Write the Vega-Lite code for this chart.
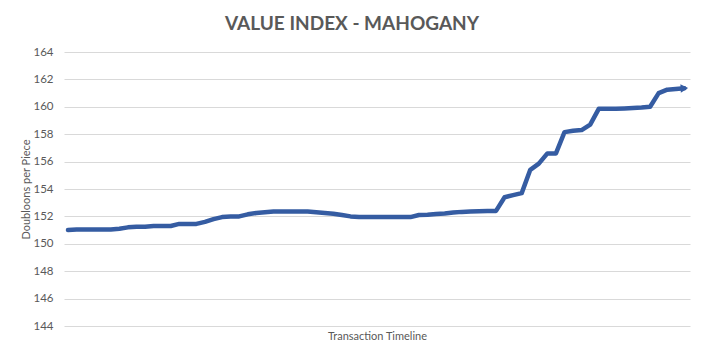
{
  "$schema": "https://vega.github.io/schema/vega-lite/v6.json",
  "width": 626,
  "height": 274,
  "autosize": {"type": "none"},
  "padding": {"left": 64, "top": 52, "right": 15, "bottom": 33},
  "background": "white",
  "title": {
    "text": "VALUE INDEX - MAHOGANY",
    "font": "Lato",
    "fontSize": 19,
    "fontWeight": "bold",
    "color": "#595959",
    "anchor": "middle",
    "dx": -25,
    "offset": 12
  },
  "config": {
    "view": {"stroke": null},
    "font": "Lato"
  },
  "data": {
    "values": [
      {"t": 0, "v": 151.0}, {"t": 1, "v": 151.05}, {"t": 2, "v": 151.05}, {"t": 3, "v": 151.05},
      {"t": 4, "v": 151.05}, {"t": 5, "v": 151.05}, {"t": 6, "v": 151.1}, {"t": 7, "v": 151.2},
      {"t": 8, "v": 151.25}, {"t": 9, "v": 151.25}, {"t": 10, "v": 151.3}, {"t": 11, "v": 151.3},
      {"t": 12, "v": 151.3}, {"t": 13, "v": 151.45}, {"t": 14, "v": 151.45}, {"t": 15, "v": 151.45},
      {"t": 16, "v": 151.6}, {"t": 17, "v": 151.8}, {"t": 18, "v": 151.95}, {"t": 19, "v": 152.0},
      {"t": 20, "v": 152.0}, {"t": 21, "v": 152.15}, {"t": 22, "v": 152.25}, {"t": 23, "v": 152.3},
      {"t": 24, "v": 152.35}, {"t": 25, "v": 152.35}, {"t": 26, "v": 152.35}, {"t": 27, "v": 152.35},
      {"t": 28, "v": 152.35}, {"t": 29, "v": 152.3}, {"t": 30, "v": 152.25}, {"t": 31, "v": 152.2},
      {"t": 32, "v": 152.1}, {"t": 33, "v": 152.0}, {"t": 34, "v": 151.95}, {"t": 35, "v": 151.95},
      {"t": 36, "v": 151.95}, {"t": 37, "v": 151.95}, {"t": 38, "v": 151.95}, {"t": 39, "v": 151.95},
      {"t": 40, "v": 151.95}, {"t": 41, "v": 152.1}, {"t": 42, "v": 152.12}, {"t": 43, "v": 152.18},
      {"t": 44, "v": 152.22}, {"t": 45, "v": 152.28}, {"t": 46, "v": 152.33}, {"t": 47, "v": 152.35},
      {"t": 48, "v": 152.38}, {"t": 49, "v": 152.4}, {"t": 50, "v": 152.4}, {"t": 51, "v": 153.4},
      {"t": 52, "v": 153.55}, {"t": 53, "v": 153.7}, {"t": 54, "v": 155.4}, {"t": 55, "v": 155.85},
      {"t": 56, "v": 156.6}, {"t": 57, "v": 156.6}, {"t": 58, "v": 158.15}, {"t": 59, "v": 158.25},
      {"t": 60, "v": 158.3}, {"t": 61, "v": 158.7}, {"t": 62, "v": 159.85}, {"t": 63, "v": 159.85},
      {"t": 64, "v": 159.85}, {"t": 65, "v": 159.88}, {"t": 66, "v": 159.92}, {"t": 67, "v": 159.95},
      {"t": 68, "v": 160.0}, {"t": 69, "v": 161.0}, {"t": 70, "v": 161.25}, {"t": 71, "v": 161.3},
      {"t": 72, "v": 161.35}
    ]
  },
  "encoding": {
    "x": {
      "field": "t",
      "type": "quantitative",
      "scale": {"domain": [-0.467, 72.66], "nice": false, "zero": false},
      "axis": {
        "title": "Transaction Timeline",
        "labels": false,
        "ticks": false,
        "domain": false,
        "grid": false,
        "titleFont": "Lato",
        "titleFontSize": 11,
        "titleFontWeight": "normal",
        "titleColor": "#595959",
        "titlePadding": 4
      }
    },
    "y": {
      "field": "v",
      "type": "quantitative",
      "scale": {"domain": [144, 164], "nice": false, "zero": false},
      "axis": {
        "title": "Doubloons per Piece",
        "values": [144, 146, 148, 150, 152, 154, 156, 158, 160, 162, 164],
        "ticks": false,
        "domain": false,
        "grid": true,
        "gridColor": "#d9d9d9",
        "gridWidth": 1,
        "labelFont": "Lato",
        "labelFontSize": 11.5,
        "labelColor": "#595959",
        "labelPadding": 11,
        "titleFont": "Lato",
        "titleFontSize": 11,
        "titleFontWeight": "normal",
        "titleColor": "#595959",
        "titleX": -33,
        "titleY": 137
      }
    }
  },
  "layer": [
    {
      "mark": {
        "type": "line",
        "color": "#355ca2",
        "strokeWidth": 4.5,
        "strokeCap": "round",
        "strokeJoin": "round"
      }
    },
    {
      "transform": [{"filter": "datum.t == 72"}],
      "mark": {
        "type": "point",
        "shape": "triangle-right",
        "filled": true,
        "opacity": 1,
        "size": 75,
        "color": "#355ca2",
        "angle": -3
      }
    }
  ]
}
